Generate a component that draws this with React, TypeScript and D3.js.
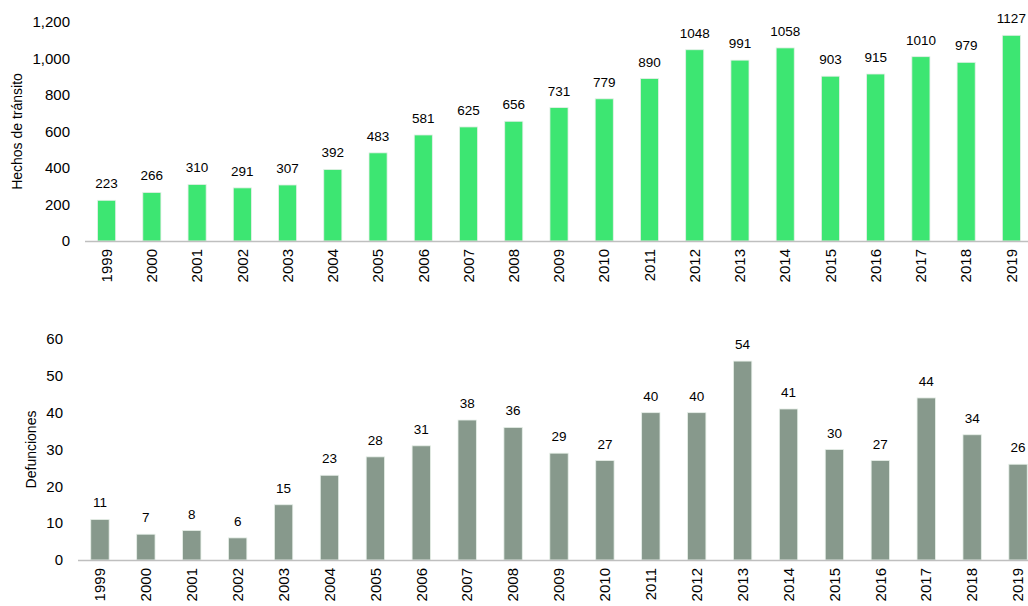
import React from "react";
import * as d3 from "d3";

const years = ["1999","2000","2001","2002","2003","2004","2005","2006","2007","2008","2009","2010","2011","2012","2013","2014","2015","2016","2017","2018","2019"];
const hechos = [223,266,310,291,307,392,483,581,625,656,731,779,890,1048,991,1058,903,915,1010,979,1127];
const defunciones = [11,7,8,6,15,23,28,31,38,36,29,27,40,40,54,41,30,27,44,34,26];
const hechosTicks = [0,200,400,600,800,1000,1200];
const defTicks = [0,10,20,30,40,50,60];

const FONT = "'Liberation Sans', Arial, sans-serif";

type PanelProps = {
  values: number[];
  ticks: number[];
  max: number;
  yTop: number;
  yBottom: number;
  xLeft: number;
  xRight: number;
  axisStart: number;
  tickRight: number;
  color: string;
  title: string;
  titleX: number;
  fmt: (v: number) => string;
};

function Panel(p: PanelProps) {
  const x = d3.scaleBand<string>().domain(years).range([p.xLeft, p.xRight]).paddingInner(0.6).paddingOuter(0.3);
  const y = d3.scaleLinear().domain([0, p.max]).range([p.yBottom, p.yTop]);
  const bw = x.bandwidth();
  const titleY = (p.yTop + p.yBottom) / 2;
  return (
    <g>
      {p.ticks.map((t) => (
        <text key={t} x={p.tickRight} y={y(t)} dy="0.35em" textAnchor="end" fontSize={15} fill="#000">
          {p.fmt(t)}
        </text>
      ))}
      <text transform={`translate(${p.titleX},${titleY}) rotate(-90)`} textAnchor="middle" fontSize={14} fill="#000" dy="0.35em">
        {p.title}
      </text>
      {p.values.map((v, i) => (
        <g key={years[i]}>
          <rect x={x(years[i])!} y={y(v)} width={bw} height={y(0) - y(v)} fill={p.color} stroke="#e6efe8" strokeWidth={0.8} />
          <text x={x(years[i])! + bw / 2} y={y(v) - 12} textAnchor="middle" fontSize={13.5} fill="#000">
            {v}
          </text>
          <text transform={`translate(${x(years[i])! + bw / 2},${p.yBottom + 8}) rotate(-90)`} textAnchor="end" dy="0.35em" fontSize={15} fill="#000">
            {years[i]}
          </text>
        </g>
      ))}
      <line x1={p.axisStart} x2={1028} y1={p.yBottom + 0.5} y2={p.yBottom + 0.5} stroke="#bfbfbf" strokeWidth={1.5} />
    </g>
  );
}

export default function App() {
  const fmt0 = d3.format(",");
  return (
    <svg width={1028} height={606} style={{ position: "absolute", left: 0, top: 0, fontFamily: FONT, background: "#fff" }}>
      <rect width={1028} height={606} fill="#fff" />
      <Panel
        values={hechos}
        ticks={hechosTicks}
        max={1200}
        yTop={22}
        yBottom={241}
        xLeft={84}
        xRight={1034}
        axisStart={85}
        tickRight={70}
        color="#3de672"
        title="Hechos de tránsito"
        titleX={17}
        fmt={(v) => fmt0(v)}
      />
      <Panel
        values={defunciones}
        ticks={defTicks}
        max={60}
        yTop={339}
        yBottom={560}
        xLeft={77}
        xRight={1041}
        axisStart={78}
        tickRight={63}
        color="#87998c"
        title="Defunciones"
        titleX={31}
        fmt={(v) => String(v)}
      />
    </svg>
  );
}
